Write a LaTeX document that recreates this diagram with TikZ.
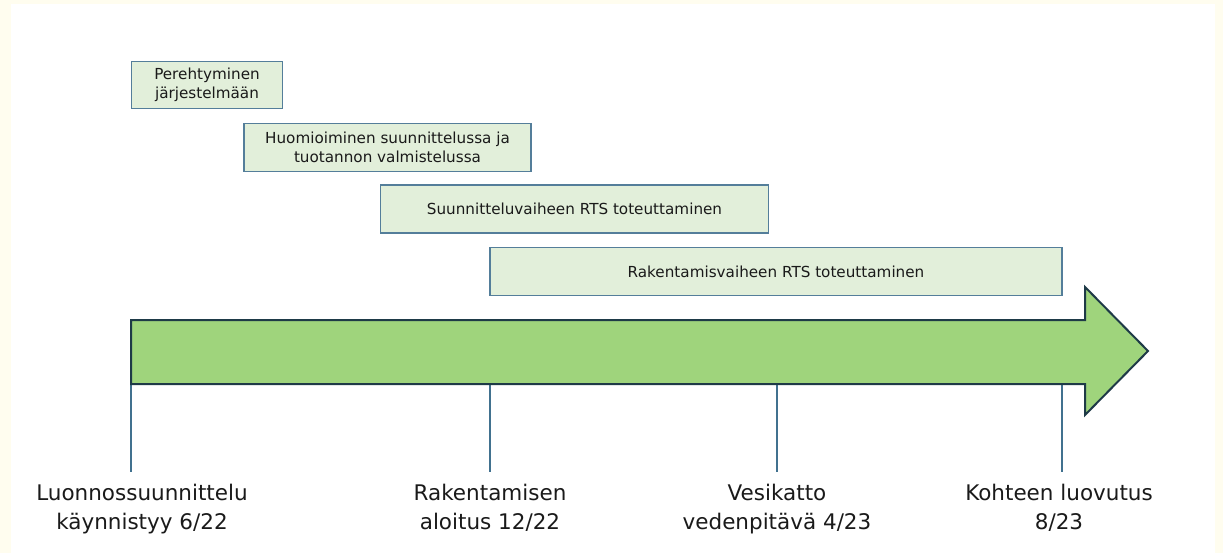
\documentclass[tikz,border=0pt]{standalone}
\usepackage{fontspec}
\setmainfont{DejaVu Sans}
\usepackage{xcolor}
\usetikzlibrary{positioning}

\definecolor{cream}{HTML}{FFFDEF}
\definecolor{taskfill}{HTML}{E2EFDA}
\definecolor{taskline}{HTML}{547E9A}
\definecolor{arrowfill}{HTML}{9FD47C}
\definecolor{arrowline}{HTML}{1E3A47}
\definecolor{tickline}{HTML}{41718F}
\definecolor{ink}{HTML}{1A1A1A}

\begin{document}
\begin{tikzpicture}[
    x=1pt, y=-1pt,
    task/.style={rectangle, draw=taskline, fill=taskfill, line width=1.1pt,
                 align=center, text=ink, inner sep=0pt,
                 font=\fontsize{15.2}{19}\selectfont},
    tick/.style={draw=tickline, line width=1.5pt},
    milestone/.style={align=center, text=ink, inner sep=0pt,
                      font=\fontsize{21.5}{29}\selectfont},
    bigarrow/.style={draw=arrowline, fill=arrowfill, line width=2pt,
                     line join=miter}
]
    \useasboundingbox (0,0) rectangle (1223,553);
    \fill[cream] (0,0) rectangle (1223,553);
    \fill[white] (11,4) rectangle (1215,553);

    % Milestone ticks
    \coordinate (t1) at (131,384);
    \coordinate (t2) at (490,384);
    \coordinate (t3) at (777,384);
    \coordinate (t4) at (1062,384);
    \coordinate (e1) at (131,472);
    \coordinate (e2) at (490,472);
    \coordinate (e3) at (777,472);
    \coordinate (e4) at (1062,472);
    \draw[tick] (t1) -- (e1);
    \draw[tick] (t2) -- (e2);
    \draw[tick] (t3) -- (e3);
    \draw[tick] (t4) -- (e4);

    % Timeline arrow
    \draw[bigarrow] (131,320) -- (1085,320) -- (1085,287) -- (1148,351)
          -- (1085,415) -- (1085,384) -- (131,384) -- cycle;

    % Phases
    \node[task, minimum width=151pt, minimum height=47pt] (perehtyminen)
          at (207,85) {Perehtyminen\\järjestelmään};
    \node[task, minimum width=287pt, minimum height=48pt] (huomioiminen)
          at (387.5,147.5) {Huomioiminen suunnittelussa ja\\tuotannon valmistelussa};
    \node[task, minimum width=388pt, minimum height=48pt] (suunnittelu)
          at (574.5,209) {Suunnitteluvaiheen RTS toteuttaminen};
    \node[task, minimum width=572pt, minimum height=48pt] (rakentaminen)
          at (776,271.5) {Rakentamisvaiheen RTS toteuttaminen};

    % Milestone labels
    \node[milestone, below=12pt of e1, xshift=11pt] (luonnos)
          {Luonnossuunnittelu\\käynnistyy 6/22};
    \node[milestone, below=12pt of e2] (aloitus)
          {Rakentamisen\\aloitus 12/22};
    \node[milestone, below=12pt of e3] (vesikatto)
          {Vesikatto\\vedenpitävä 4/23};
    \node[milestone, below=12pt of e4, xshift=-3pt] (luovutus)
          {Kohteen luovutus\\8/23};
\end{tikzpicture}
\end{document}
